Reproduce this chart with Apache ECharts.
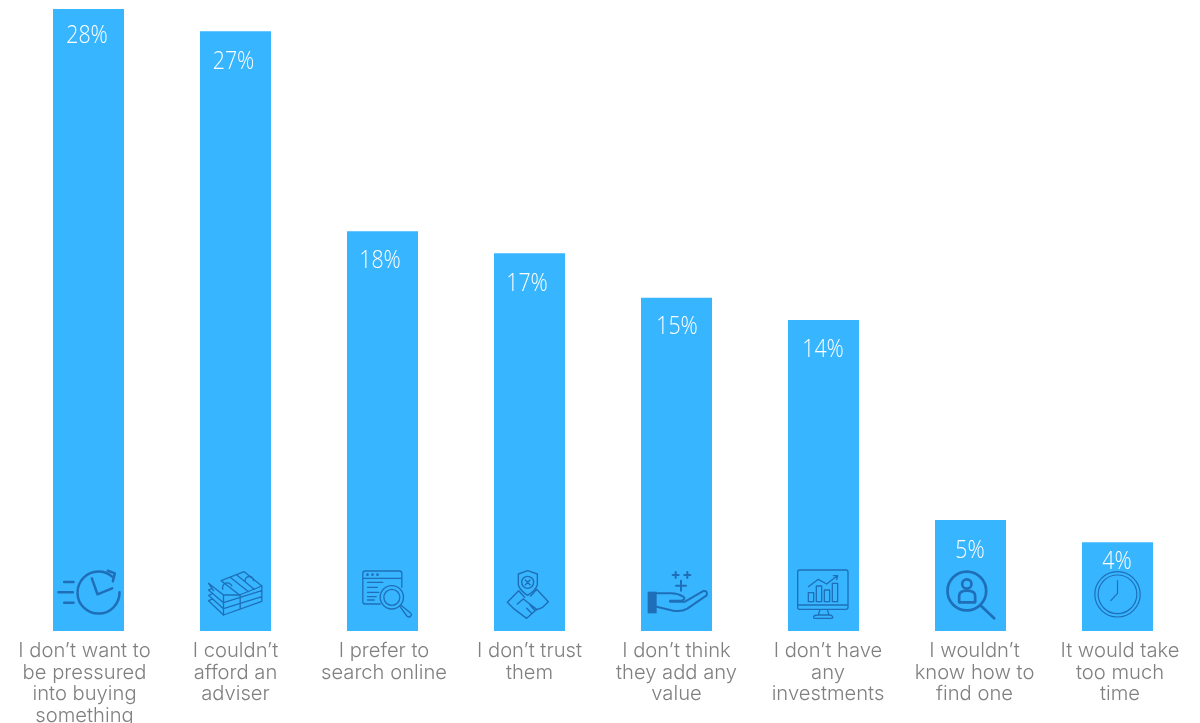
<!DOCTYPE html>
<html>
<head>
<meta charset="utf-8">
<style>html,body{margin:0;padding:0;background:#fff}#c{width:1200px;height:723px}</style>
<script src="https://cdn.jsdelivr.net/npm/echarts@6/dist/echarts.min.js"></script>
</head>
<body>
<div id="c"></div>
<script>
const categories = [
  "I don\u2019t want to\nbe pressured\ninto buying\nsomething",
  "I couldn\u2019t\nafford an\nadviser",
  "I prefer to\nsearch online",
  "I don\u2019t trust\nthem",
  "I don\u2019t think\nthey add any\nvalue",
  "I don\u2019t have\nany\ninvestments",
  "I wouldn\u2019t\nknow how to\nfind one",
  "It would take\ntoo much\ntime"
];
const shares = [28, 27, 18, 17, 15, 14, 5, 4];
// sideways nudge of each caption, in pixels
const captionShift = [-4, 0, 1.5, 0, 0, 4.5, 4, 2.5];
// value label centre: distance below the bar top, and sideways nudge
const labelDrop = [27, 30, 29, 30, 29, 30, 31, 19];
const labelShift = [-1.5, -2, -2.5, -2.5, 0.5, -0.5, -0.5, -0.5];

const BAR = "#38B5FF", INK = "#1E6FB8", GREY = "#808080";

// Pictograms: [origin x, origin y, stroke paths, filled paths, stroke width]
const pictograms = [
  [145, 243, ["M238 127A63 63 0 1 1 216 80M203 62L224 70L218 94M72 96H100M55 127H98M72 158H100M155 85L172 133L216 115"], [], 2.5],
  [586, 243, [
    "M543 92L612 65L665 108L598 135Z",
    "M505 100L550 135L598 135M505 100L520 122M505 120L550 158L665 122V108M505 120L515 116M505 136L550 176L665 140V124M505 136L515 132M505 152L550 195L665 154V140M505 152L515 148",
    "M550 135V195M600 135V176M570 82L625 125M590 75L642 118M548 118A14 14 0 0 1 575 108M615 92A12 12 0 0 1 640 92"
  ], [], 1.3],
  [1027, 243, [
    "M1020 162H975Q968 162 968 155V70Q968 63 975 63H1078Q1085 63 1085 70V112M968 85H1085M982 97H1028M982 112H1012M982 127H1016M982 140H1008M982 150H1002",
    "M1090 142A35 35 0 1 1 1020 142A35 35 0 1 1 1090 142M1079 142A24 24 0 1 1 1031 142A24 24 0 1 1 1079 142M1080 170L1100 198Q1106 204 1112 198Q1116 192 1110 188L1083 166"
  ], ["M978 74a4 4 0 1 0 8 0a4 4 0 1 0 -8 0M993 74a4 4 0 1 0 8 0a4 4 0 1 0 -8 0M1008 74a4 4 0 1 0 8 0a4 4 0 1 0 -8 0"], 1.3],
  [148.5, 243, [
    "M143 62L115 72V105Q120 122 143 136Q166 122 172 105V72ZM161 97A18 18 0 1 1 125 97A18 18 0 1 1 161 97M136 90L150 104M150 90L136 104",
    "M82 157L116 122L134 142M205 155L170 118L152 138M82 157L100 175M205 155L188 172M100 175L140 205L168 180L188 172M130 147L112 162M130 147L170 178M155 190L140 175M165 182L150 165"
  ], [], 1.4],
  [589.5, 243, [
    "M530 130H568Q590 128 610 140Q620 148 602 152H570M570 155H615L668 124Q684 120 680 136L622 176Q604 186 580 182L530 170",
    "M587 66V84M578 75H596M622 66V84M613 75H631M603 92V122M588 107H618"
  ], ["M503 125H530V190H503Z"], 2],
  [1030.5, 243, [
    "M953 165V66Q953 60 959 60H1098Q1104 60 1104 66V172Q1104 178 1098 178H959Q953 178 953 172ZM953 165H1104M1020 178L1015 195M1042 178L1047 195M1006 205Q998 205 1002 198Q1005 195 1015 195H1047Q1056 195 1058 200Q1060 205 1052 205Z",
    "M985 128H1001V155H985ZM1009 108H1025V155H1009ZM1033 120H1049V155H1033ZM1057 100H1073V155H1057ZM985 110L1015 88L1040 102L1072 77M1060 77H1073L1070 89"
  ], [], 1.3],
  [211, 363, [
    "M258 243A58 58 0 1 1 142 243A58 58 0 1 1 258 243M214 222A14 14 0 1 1 186 222A14 14 0 1 1 214 222M177 277V258Q177 242 200 242Q225 242 225 258V277ZM243 288L282 325"
  ], [], 2.7],
  [652, 363, [
    "M720 253A68 68 0 1 1 584 253A68 68 0 1 1 720 253M710 253A58 58 0 1 1 594 253A58 58 0 1 1 710 253M652 212V250L632 272"
  ], [], 1.2]
];

const captionRich = {};
captionShift.forEach((s, i) => {
  captionRich["c" + i] = {
    fontFamily: "Inter", fontWeight: 300, fontSize: 20.2, lineHeight: 21.7, color: GREY,
    padding: [0, s < 0 ? -2 * s : 0, 0, s > 0 ? 2 * s : 0]
  };
});

const chart = echarts.init(document.getElementById("c"));
chart.setOption({
  animation: false,
  grid: { left: 15, right: 9, top: 9, bottom: 92, containLabel: false, outerBoundsMode: "none" },
  xAxis: {
    type: "category", data: categories,
    axisLine: { show: false }, axisTick: { show: false },
    axisLabel: {
      interval: 0, margin: 9, verticalAlign: "top",
      formatter: (v, i) => v.split("\n").map(l => `{c${i}|${l}}`).join("\n"),
      rich: captionRich
    }
  },
  yAxis: { type: "value", min: 0, max: 28, show: false, splitLine: { show: false } },
  series: [
    {
      type: "bar", barWidth: 71,
      itemStyle: { color: BAR },
      data: shares
    },
    {
      type: "custom", silent: true, z: 5,
      data: shares.map((v, i) => [i, v]),
      renderItem(params, api) {
        const p = api.coord([api.value(0), 0]);
        const top = api.coord([api.value(0), api.value(1)]);
        const i = params.dataIndex;
        const [ox, oy, lines, solids, lw] = pictograms[i];
        const frame = `M${ox - 106} ${oy - 243}M${ox + 106} ${oy}`;
        const box = { x: p[0] - 106 / 3, y: p[1] - 81, width: 212 / 3, height: 81, layout: "cover" };
        return {
          type: "group",
          children: [
            ...lines.map(d => ({
              type: "path", shape: { pathData: frame + d, ...box },
              style: { fill: "none", stroke: INK, lineWidth: lw, lineCap: "round", lineJoin: "round" }
            })),
            ...solids.map(d => ({
              type: "path", shape: { pathData: frame + d, ...box },
              style: { fill: INK, stroke: "none" }
            })),
            {
              type: "text",
              x: top[0] + labelShift[i], y: top[1] + labelDrop[i],
              scaleX: 0.82,
              style: {
                text: api.value(1) + "%", fill: "#fff", align: "center", verticalAlign: "middle",
                fontFamily: "Open Sans", fontWeight: 300, fontSize: 26
              }
            }
          ]
        };
      }
    }
  ]
});
</script>
</body>
</html>
